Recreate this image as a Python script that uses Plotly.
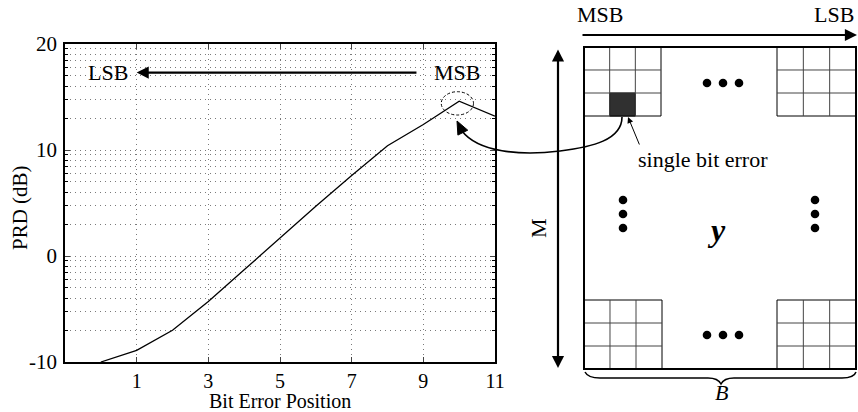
import numpy as np
import plotly.graph_objects as go

# PRD versus the position of a single flipped bit
bit_position = [0, 1, 2, 3, 4, 5, 6, 7, 8, 9, 10, 11]
prd_db = [-10.0, -8.9, -7.0, -4.3, -1.3, 1.7, 4.7, 7.6, 10.4, 12.4, 14.6, 13.2]

x_ticks = [1, 3, 5, 7, 9, 11]
y_ticks = [-10, 0, 10, 20]
y_tick_text = ["-10", "0", "10", "20"]

FONT = "Liberation Serif"
W, H = 858, 412
ML, MR, MT, MB = 65, 363, 44, 50
PW, PH = W - ML - MR, H - MT - MB


def fx(px):
    """Pixel column -> paper x."""
    return (px - ML) / PW


def fy(py):
    """Pixel row -> paper y."""
    return (H - MB - py) / PH


def path(points, close=False):
    s = "M " + " L ".join(f"{fx(a):.5f},{fy(b):.5f}" for a, b in points)
    return s + (" Z" if close else "")


def text_font(size=22):
    return dict(family=FONT, size=size, color="black")


def label(px, py, text, size=22, angle=0):
    """Text centred on a pixel position."""
    return dict(x=fx(px), y=fy(py), xref="paper", yref="paper", text=text,
                showarrow=False, xanchor="center", yanchor="middle",
                textangle=angle, font=text_font(size))


# minor grid: 2..9 subdivisions inside each 10 dB band
minor_y = [d + 10 * np.log10(k) for d in (-10, 0, 10) for k in range(2, 10)]

fig = go.Figure()
fig.add_trace(go.Scatter(x=bit_position, y=prd_db, mode="lines",
                         line=dict(color="black", width=1.3),
                         showlegend=False, hoverinfo="skip", cliponaxis=True))

grid = dict(showgrid=True, gridcolor="#7a7a7a", gridwidth=1, griddash="1px,4px")
fig.update_xaxes(range=[-1, 11], tickvals=x_ticks, ticks="inside", ticklen=5,
                 showline=True, linecolor="black", linewidth=1.5, mirror="ticks",
                 zeroline=False, tickfont=text_font(20), automargin=False,
                 **grid)
fig.update_yaxes(range=[-10, 20], tickvals=y_ticks, ticktext=y_tick_text,
                 ticks="inside", ticklen=5,
                 showline=True, linecolor="black", linewidth=1.5, mirror="ticks",
                 zeroline=False, tickfont=text_font(21), automargin=False,
                 ticklabelstandoff=2,
                 minor=dict(tickvals=minor_y, ticks="inside", ticklen=3,
                            tickcolor="black", showgrid=True, gridcolor="#7a7a7a",
                            gridwidth=1, griddash="1px,4px"),
                 **grid)

shapes = []
ann = []

# axis titles
ann.append(label(280, 401, "Bit Error Position", size=20))
ann.append(label(20, 208, "PRD (dB)", size=21, angle=-90))

# dashed ellipse around the MSB point
peak_x = bit_position[prd_db.index(max(prd_db))]
peak_y = max(prd_db)
shapes.append(dict(type="circle", xref="x", yref="y",
                   x0=peak_x - 0.5, x1=peak_x + 0.4,
                   y0=peak_y - 1.3, y1=peak_y + 0.9,
                   line=dict(color="black", width=1, dash="3px,2px")))

# MSB -> LSB arrow inside the axes
arrow_y = 17.3
ann.append(dict(x=1.0, y=arrow_y, xref="x", yref="y", ax=8.85, ay=arrow_y,
                axref="x", ayref="y", text="", showarrow=True, arrowhead=2,
                arrowsize=1.1, arrowwidth=2.2, arrowcolor="black"))
ann.append(dict(x=0.82, y=arrow_y, xref="x", yref="y", text="LSB", showarrow=False,
                xanchor="right", yanchor="middle", font=text_font()))
ann.append(dict(x=9.93, y=arrow_y, xref="x", yref="y", text="MSB", showarrow=False,
                xanchor="center", yanchor="middle", font=text_font()))

# ---- bit-plane matrix diagram on the right ----
BOX = (584, 47, 856, 369)


def add_block(x0, y0, x1, y1, dark=None):
    shapes.append(dict(type="rect", xref="paper", yref="paper",
                       x0=fx(x0), x1=fx(x1), y0=fy(y1), y1=fy(y0),
                       fillcolor="white", line=dict(color="black", width=1)))
    cw, ch = (x1 - x0) / 3, (y1 - y0) / 3
    if dark is not None:
        c, r = dark
        shapes.append(dict(type="rect", xref="paper", yref="paper",
                           x0=fx(x0 + c * cw), x1=fx(x0 + (c + 1) * cw),
                           y0=fy(y0 + (r + 1) * ch), y1=fy(y0 + r * ch),
                           fillcolor="#303030", line=dict(color="black", width=1)))
    for i in (1, 2):
        shapes.append(dict(type="path", xref="paper", yref="paper",
                           path=path([(x0 + i * cw, y0), (x0 + i * cw, y1)]),
                           line=dict(color="#444", width=1)))
        shapes.append(dict(type="path", xref="paper", yref="paper",
                           path=path([(x0, y0 + i * ch), (x1, y0 + i * ch)]),
                           line=dict(color="#444", width=1)))


add_block(584, 47, 661, 116, dark=(1, 2))
add_block(777, 47, 856, 116)
add_block(584, 300, 662, 369)
add_block(777, 300, 856, 369)

shapes.append(dict(type="rect", xref="paper", yref="paper",
                   x0=fx(BOX[0]), x1=fx(BOX[2]), y0=fy(BOX[3]), y1=fy(BOX[1]),
                   line=dict(color="black", width=2)))

# ellipsis dots
R = 4.3
dots = [(707, 83), (723, 83), (739, 83), (707, 335), (723, 335), (739, 335),
        (623, 200), (623, 214), (623, 228), (815, 200), (815, 214), (815, 228)]
for cx, cy in dots:
    shapes.append(dict(type="circle", xref="paper", yref="paper",
                       x0=fx(cx - R), x1=fx(cx + R), y0=fy(cy + R), y1=fy(cy - R),
                       fillcolor="black", line=dict(color="black", width=0)))

# brace under the matrix
brace = (f"M {fx(585):.5f},{fy(372):.5f} Q {fx(588):.5f},{fy(378):.5f} {fx(600):.5f},{fy(378):.5f} "
         f"L {fx(708):.5f},{fy(378):.5f} Q {fx(718):.5f},{fy(378):.5f} {fx(721):.5f},{fy(384):.5f} "
         f"Q {fx(724):.5f},{fy(378):.5f} {fx(734):.5f},{fy(378):.5f} "
         f"L {fx(842):.5f},{fy(378):.5f} Q {fx(854):.5f},{fy(378):.5f} {fx(856):.5f},{fy(372):.5f}")
shapes.append(dict(type="path", xref="paper", yref="paper", path=brace,
                   line=dict(color="black", width=1.5)))

# curved arrow from the flipped bit to the MSB point
curve = (f"M {fx(622):.5f},{fy(117):.5f} "
         f"C {fx(622):.5f},{fy(140):.5f} {fx(592):.5f},{fy(147):.5f} {fx(560):.5f},{fy(151):.5f} "
         f"C {fx(520):.5f},{fy(156):.5f} {fx(478):.5f},{fy(152):.5f} {fx(462):.5f},{fy(131):.5f}")
shapes.append(dict(type="path", xref="paper", yref="paper", path=curve,
                   line=dict(color="black", width=1.6)))
tip = np.array([457.0, 121.0])
d = np.array([-5.0, -10.0])
d /= np.linalg.norm(d)
n = np.array([-d[1], d[0]])
base = tip - 13 * d
tri = [tuple(tip), tuple(base + 5.5 * n), tuple(base - 5.5 * n)]
shapes.append(dict(type="path", xref="paper", yref="paper", path=path(tri, close=True),
                   fillcolor="black", line=dict(color="black", width=1)))

# top MSB -> LSB arrow (tail offset given in pixels)
ann.append(dict(x=fx(857), y=fy(35), xref="paper", yref="paper",
                ax=581 - 857, ay=0,
                text="", showarrow=True, arrowhead=2, arrowsize=1.1, arrowwidth=2.2,
                arrowcolor="black"))
ann.append(label(600, 15, "MSB"))
ann.append(label(834, 15, "LSB"))

# vertical double arrow for M
ann.append(dict(x=fx(558), y=fy(368), xref="paper", yref="paper",
                ax=0, ay=48 - 368,
                text="", showarrow=True, arrowhead=2, startarrowhead=2,
                arrowside="end+start", arrowsize=1.1, arrowwidth=2.2,
                startarrowsize=1.1, arrowcolor="black"))
ann.append(label(538, 228, "M", angle=-90))

# pointer to the flipped bit
ann.append(dict(x=fx(628), y=fy(117), xref="paper", yref="paper",
                ax=12, ay=29, text="", showarrow=True, arrowhead=2, arrowsize=1.2,
                arrowwidth=1, arrowcolor="black"))
ann.append(label(703, 159, "single bit error"))

ann.append(label(716, 230, "<b><i>y</i></b>", size=32))
ann.append(label(721, 392, "<i>B</i>"))

fig.update_layout(width=W, height=H,
                  margin=dict(l=ML, r=MR, t=MT, b=MB, pad=0, autoexpand=False),
                  paper_bgcolor="white", plot_bgcolor="white",
                  shapes=shapes, annotations=ann, showlegend=False)

fig.write_html("out.html", config={"displayModeBar": False})
